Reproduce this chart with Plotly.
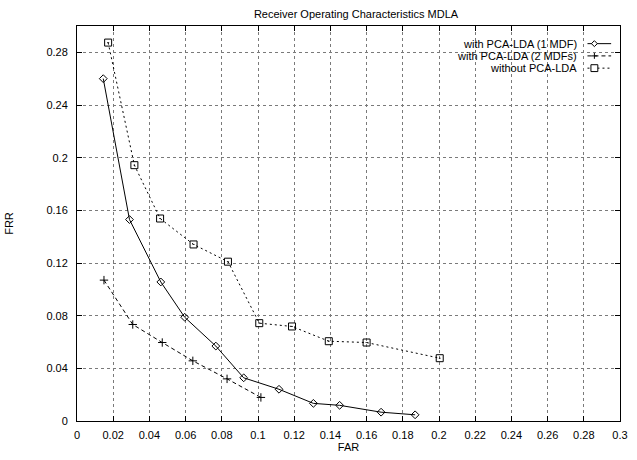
import plotly.graph_objects as go

# ---- data ----
far_1mdf = [0.0145, 0.029, 0.0463, 0.0595, 0.0767, 0.0921, 0.1116, 0.1306, 0.1451, 0.168, 0.1868]
frr_1mdf = [0.260, 0.153, 0.1056, 0.0788, 0.0569, 0.0328, 0.0241, 0.0134, 0.0119, 0.0067, 0.0047]

far_2mdf = [0.0149, 0.0308, 0.0471, 0.064, 0.0829, 0.1016]
frr_2mdf = [0.107, 0.0733, 0.0596, 0.0457, 0.032, 0.0179]

far_nolda = [0.0172, 0.0317, 0.0459, 0.0644, 0.0834, 0.1007, 0.1188, 0.1391, 0.16, 0.2004]
frr_nolda = [0.2874, 0.1943, 0.1538, 0.1341, 0.121, 0.0743, 0.0718, 0.0606, 0.0596, 0.0477]

series_names = ["with PCA-LDA (1 MDF)", "with PCA-LDA (2 MDFs)", "without PCA-LDA"]
x_ticks = [round(0.02 * i, 2) for i in range(16)]
y_ticks = [round(0.04 * i, 2) for i in range(8)]

# ---- layout geometry (pixels) ----
W, H = 637, 460
L, R, T, B = 77, 9, 26, 31
PW, PH = W - L - R, H - T - B
FONT = "Liberation Sans, Arial, Helvetica, sans-serif"


def px(xp):
    return (xp - L) / PW


def py(yp):
    return (H - B - yp) / PH


styles = [
    dict(dash="solid", symbol="diamond-open", size=6),
    dict(dash="4px,3px", symbol="cross-thin-open", size=6),
    dict(dash="2px,3px", symbol="square-open-dot", size=7),
]
xs = [far_1mdf, far_2mdf, far_nolda]
ys = [frr_1mdf, frr_2mdf, frr_nolda]

fig = go.Figure()
for name, x, y, st in zip(series_names, xs, ys, styles):
    fig.add_trace(go.Scatter(
        x=x, y=y, name=name, mode="lines+markers",
        line=dict(color="black", width=1, dash=st["dash"]),
        marker=dict(symbol=st["symbol"], size=st["size"], color="black",
                    line=dict(color="black", width=1)),
        showlegend=False,
    ))

# ---- gnuplot-style key: right-aligned text with sample to its right ----
shapes = []
annotations = []
rows_y = [44, 56.5, 69]
for i, (name, st) in enumerate(zip(series_names, styles)):
    yy = rows_y[i]
    annotations.append(dict(
        x=px(586), y=py(yy), xref="paper", yref="paper", text=name,
        showarrow=False, xanchor="right", yanchor="middle",
        font=dict(family=FONT, size=11, color="black"),
    ))
    shapes.append(dict(
        type="line", xref="paper", yref="paper",
        x0=px(595), x1=px(619), y0=py(yy), y1=py(yy),
        line=dict(color="black", width=1, dash=st["dash"]),
    ))
    cx, cy = 602, yy
    if i == 0:
        r = 3
        path = (f"M {px(cx - r)} {py(cy)} L {px(cx)} {py(cy - r)} "
                f"L {px(cx + r)} {py(cy)} L {px(cx)} {py(cy + r)} Z")
        shapes.append(dict(type="path", xref="paper", yref="paper", path=path,
                           line=dict(color="black", width=1), fillcolor="white"))
    elif i == 1:
        r = 3
        shapes.append(dict(type="line", xref="paper", yref="paper",
                           x0=px(cx - r), x1=px(cx + r), y0=py(cy), y1=py(cy),
                           line=dict(color="black", width=1)))
        shapes.append(dict(type="line", xref="paper", yref="paper",
                           x0=px(cx), x1=px(cx), y0=py(cy - r), y1=py(cy + r),
                           line=dict(color="black", width=1)))
    else:
        r = 3.5
        shapes.append(dict(type="rect", xref="paper", yref="paper",
                           x0=px(cx - r), x1=px(cx + r), y0=py(cy - r), y1=py(cy + r),
                           line=dict(color="black", width=1), fillcolor="white"))

axis_common = dict(
    showline=True, linecolor="black", linewidth=1, mirror="allticks",
    ticks="inside", ticklen=5, tickcolor="black", tickwidth=1,
    showgrid=True, gridcolor="#7a7a7a", gridwidth=1, griddash="dot",
    zeroline=False, ticklabeloverflow="allow",
    tickfont=dict(family=FONT, size=11, color="black"),
)

fig.update_layout(
    width=W, height=H,
    margin=dict(l=L, r=R, t=T, b=B),
    paper_bgcolor="white", plot_bgcolor="white",
    font=dict(family=FONT, size=11, color="black"),
    title=dict(text="Receiver Operating Characteristics MDLA",
               x=356 / W, xanchor="center", y=1 - 14 / H, yanchor="middle",
               font=dict(family=FONT, size=11, color="black")),
    xaxis=dict(range=[0, 0.3], tickvals=x_ticks, ticklabelstandoff=4,
               title=dict(text="FAR", standoff=2,
                          font=dict(family=FONT, size=11)),
               **axis_common),
    yaxis=dict(range=[0, 0.3], tickvals=y_ticks, ticklabelstandoff=6,
               title=dict(text="FRR", standoff=30,
                          font=dict(family=FONT, size=11)),
               **axis_common),
    shapes=shapes,
    annotations=annotations,
)

fig.write_html(
    "out.html",
    config={"displayModeBar": False},
    post_script="document.body.style.margin='0';document.body.style.overflow='hidden';",
)
